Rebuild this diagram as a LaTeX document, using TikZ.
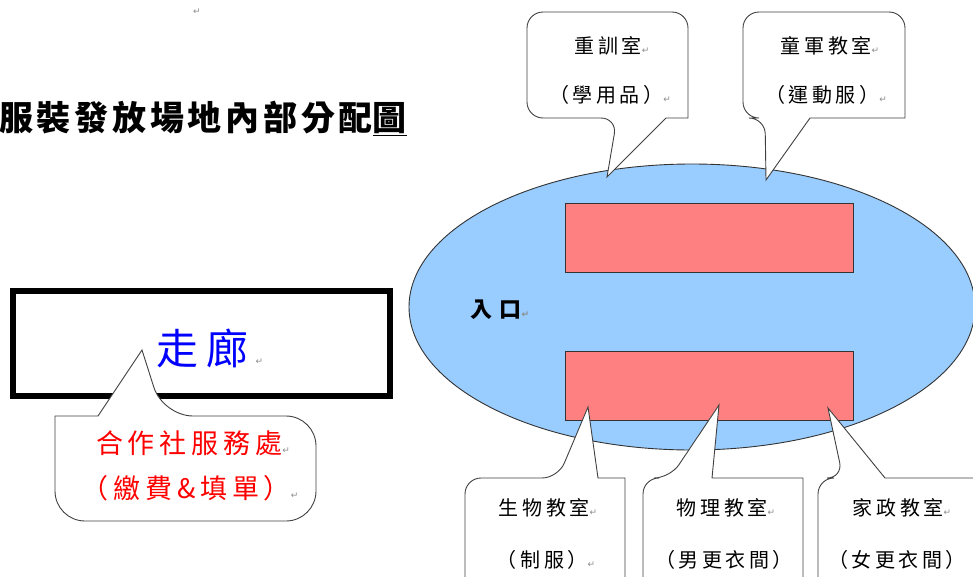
\documentclass[tikz,border=0pt]{standalone}
\usepackage{fontspec}
\setmainfont{Noto Sans CJK TC}
\newfontfamily\cjk{Noto Sans CJK TC}[LetterSpace=18]
\newfontfamily\cjkt{Noto Sans CJK TC}[LetterSpace=11]
\newfontfamily\cjke{Noto Sans CJK TC}[LetterSpace=30]
\newfontfamily\symf{DejaVu Sans}
\newcommand\pmark{{\symf\fontsize{9}{9}\selectfont\textcolor{black!45}{↵}}}
\usetikzlibrary{shapes.geometric}
\definecolor{hallblue}{HTML}{99CCFF}
\definecolor{roomred}{HTML}{FF8080}
\tikzset{
  callout/.style={draw=black!75, line width=0.9pt, fill=white},
  roombox/.style={draw=black!80, line width=0.9pt, fill=roomred, minimum width=288pt, minimum height=69pt, inner sep=0pt},
  lbl/.style={font=\cjk\fontsize{20}{20}\selectfont, inner sep=0pt},
  redlbl/.style={font=\cjk\fontsize{27}{27}\selectfont, text=red, inner sep=0pt},
}
\begin{document}
\begin{tikzpicture}[x=1pt,y=-1pt]
\useasboundingbox (0,0) rectangle (973,576);
% title
\node[anchor=west, inner sep=0pt, font=\cjkt\bfseries\fontsize{34}{34}\selectfont] (title) at (-1,118) {服裝發放場地內部分配\underline{圖}};
\node[inner sep=0pt] (topmark) at (197,12) {\pmark};
% hall
\node[draw=black!80, line width=0.9pt, fill=hallblue, ellipse, minimum width=566pt, minimum height=286pt, inner sep=0pt] (hall) at (692,307) {};
\node[roombox] (roomA) at (709,237.5) {};
\node[roombox] (roomB) at (709,386) {};
\node[inner sep=0pt, font=\cjke\bfseries\fontsize{22}{22}\selectfont] (entry) at (500,310) {入口\pmark};
% corridor
\node[draw=black, line width=6pt, minimum width=377pt, minimum height=105pt, inner sep=0pt] (corr) at (201.5,343.5) {};
\node[inner sep=0pt, text=blue, font=\cjk\fontsize{42}{42}\selectfont] (corrtxt) at (210,348) {走廊\,\pmark};
% tips
\coordinate (tipA) at (607,177);
\coordinate (tipB) at (766,180);
\coordinate (tipC) at (142,350);
\coordinate (tipD) at (588,407);
\coordinate (tipE) at (719,405);
\coordinate (tipF) at (828,408);
% top callouts
\draw[callout] (607,12) [rounded corners=16pt] -- (527,12) -- (527,118) -- (617,118) [sharp corners] -- (tipA) -- (666,118) -- (688,118) [rounded corners=16pt] -- (688,12) -- cycle;
\draw[callout] (824,12) [rounded corners=16pt] -- (743,12) -- (743,118) -- (765,118) [sharp corners] -- (tipB) -- (810,118) -- (905,118) [rounded corners=16pt] -- (905,12) -- cycle;
% corridor callout
\draw[callout] (185,521) [rounded corners=30pt] -- (316,521) -- (316,416) -- (163,416) [sharp corners] -- (tipC) -- (98,416) -- (55,416) [rounded corners=30pt] -- (55,521) -- cycle;
% bottom callouts
\draw[callout] (545,610) [rounded corners=16pt] -- (465,610) -- (465,478) -- (558,478) [sharp corners] -- (tipD) -- (598,478) -- (625,478) [rounded corners=16pt] -- (625,610) -- cycle;
\draw[callout] (723,610) [rounded corners=16pt] -- (643,610) -- (643,478) -- (670,478) [sharp corners] -- (tipE) -- (712,478) -- (803,478) [rounded corners=16pt] -- (803,610) -- cycle;
\draw[callout] (900,610) [rounded corners=16pt] -- (818,610) -- (818,478) -- (843,478) [sharp corners] -- (tipF) -- (885,478) -- (990,478) [rounded corners=16pt] -- (990,610) -- cycle;
% texts
\node[lbl] (a1) at (612,46) {重訓室\pmark};
\node[lbl] (a2) at (610,95) {（學用品）\pmark};
\node[lbl] (b1) at (830,46) {童軍教室\pmark};
\node[lbl] (b2) at (826,95) {（運動服）\pmark};
\node[redlbl] (c1) at (193,443) {合作社服務處\pmark};
\node[redlbl] (c2) at (190,488) {（繳費\&填單）\pmark};
\node[lbl] (d1) at (548,508) {生物教室\pmark};
\node[lbl] (d2) at (546,560) {（制服）\pmark};
\node[lbl] (e1) at (726,508) {物理教室\pmark};
\node[lbl] (e2) at (724,560) {（男更衣間）};
\node[lbl] (f1) at (902,508) {家政教室\pmark};
\node[lbl] (f2) at (897,560) {（女更衣間）};
\end{tikzpicture}
\end{document}
